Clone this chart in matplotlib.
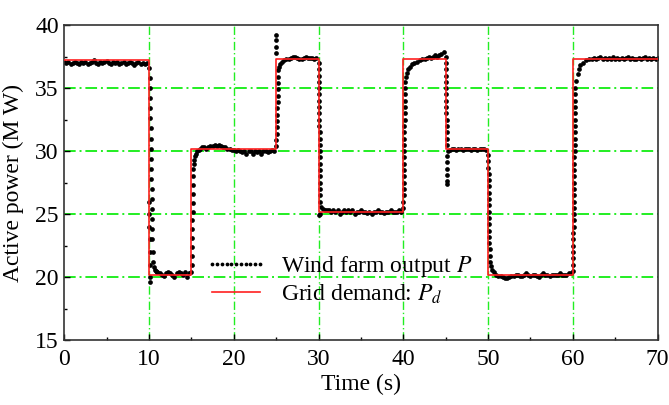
import numpy as np
import matplotlib
matplotlib.use("Agg")
import matplotlib.pyplot as plt
from matplotlib.ticker import MultipleLocator

# ---------------- data ----------------
# Grid demand (step levels)
demand_times = [0, 10, 15, 25, 30, 40, 45, 50, 60, 70]
demand_levels = [37.2, 20.2, 30.2, 37.3, 25.2, 37.3, 30.2, 20.2, 37.3]

# Wind farm output, read segment by segment (start time, step, values)
seg_a_vals = [37.1, 37.0, 37.1, 36.9, 37.0, 37.1, 37.0, 36.95, 37.1, 37.0,
              37.05, 36.9, 37.0, 37.1, 37.2, 37.0, 36.95, 37.1, 37.0, 37.05,
              37.15, 37.0, 36.9, 37.1, 37.0, 37.05, 36.95, 37.0, 37.1, 36.9,
              37.0, 37.1, 37.0, 36.85, 37.0, 37.05, 36.9, 37.0, 36.95, 37.0]
tr10_t = [10.03, 10.04, 10.05, 10.06, 10.07, 10.08, 10.09, 10.10,
          10.05, 10.08, 10.10, 10.12, 10.14, 10.16, 10.18, 10.20, 10.22, 10.24,
          10.26, 10.28, 10.30, 10.32, 10.34, 10.36, 10.38, 10.40, 10.45, 10.5,
          10.6, 10.7, 10.8, 10.9]
tr10_p = [26.0, 25.0, 24.0, 23.0, 22.0, 21.0, 20.0, 19.6,
          36.6, 35.8, 35.0, 34.2, 33.4, 32.6, 31.8, 31.0, 30.2, 29.4,
          28.6, 27.8, 27.0, 26.2, 25.4, 24.6, 23.8, 23.0, 22.0, 21.2,
          20.8, 20.6, 20.5, 20.4]
seg_b_vals = [20.4, 20.3, 20.2, 20.1, 20.3, 20.4, 20.3, 20.2, 20.0, 20.3,
              20.4, 20.3, 20.2, 20.4, 20.0, 20.3]
tr15_t = [15.0, 15.02, 15.04, 15.06, 15.08, 15.10, 15.12, 15.14, 15.16, 15.18,
          15.20, 15.22, 15.24, 15.26, 15.3, 15.4, 15.5, 15.7, 15.9]
tr15_p = [20.4, 21.0, 21.7, 22.4, 23.1, 23.8, 24.5, 25.2, 25.9, 26.6,
          27.3, 28.0, 28.6, 29.0, 29.3, 29.6, 29.8, 30.0, 30.1]
seg_c_vals = [30.2, 30.3, 30.3, 30.2, 30.3, 30.4, 30.4, 30.5, 30.4, 30.5,
              30.4, 30.3, 30.3, 30.2, 30.2, 30.1, 30.1, 30.0, 30.1, 30.0,
              29.9, 30.0, 29.8, 30.0, 30.0, 29.8, 30.0, 29.9, 30.0, 29.8,
              30.0, 30.0, 29.9, 30.0, 30.1, 30.0]
tr25_t = [24.96, 24.97, 24.98, 24.99,
          25.02, 25.04, 25.06, 25.08, 25.10, 25.12, 25.14, 25.16, 25.18, 25.20,
          25.22, 25.24, 25.26, 25.35, 25.5, 25.7, 25.9, 26.2]
tr25_p = [37.8, 38.3, 38.8, 39.2,
          30.4, 30.9, 31.4, 31.9, 32.4, 32.9, 33.4, 33.9, 34.4, 34.9,
          35.4, 35.9, 36.4, 36.7, 36.9, 37.1, 37.2, 37.3]
seg_d_vals = [37.3, 37.4, 37.5, 37.5, 37.4, 37.3, 37.3, 37.4, 37.5, 37.4,
              37.4, 37.4, 37.3, 37.4]
tr30_t = [30.01, 30.02, 30.03, 30.04, 30.05, 30.06, 30.07, 30.08, 30.09, 30.10,
          30.11, 30.12, 30.13, 30.14, 30.15, 30.16, 30.17, 30.18, 30.19, 30.20,
          30.21, 30.22, 30.23, 30.10, 30.15, 30.3, 30.5, 30.8]
tr30_p = [37.0, 36.5, 36.0, 35.5, 35.0, 34.5, 34.0, 33.5, 33.0, 32.5,
          32.0, 31.5, 31.0, 30.5, 30.0, 29.5, 29.0, 28.5, 28.0, 27.5,
          27.0, 26.5, 26.0, 24.9, 25.0, 25.6, 25.4, 25.3]
seg_e_vals = [25.3, 25.3, 25.2, 25.3, 25.2, 25.3, 25.0, 25.2, 25.3, 25.2,
              25.3, 25.2, 25.3, 25.0, 25.2, 25.2, 25.3, 25.2, 25.2, 25.1,
              25.2, 25.0, 25.2, 25.2, 25.3, 25.2, 25.2, 25.1, 25.2, 25.2,
              25.3, 25.2, 25.2, 25.2, 25.3, 25.2]
tr40_t = [40.01, 40.02, 40.03, 40.04, 40.05, 40.06, 40.07, 40.08, 40.09, 40.10,
          40.11, 40.12, 40.13, 40.14, 40.15, 40.16, 40.17, 40.18, 40.19, 40.20,
          40.21, 40.3, 40.45, 40.6, 40.8, 41.0, 41.3, 41.6, 42.0]
tr40_p = [25.5, 26.0, 26.5, 27.0, 27.5, 28.0, 28.5, 29.0, 29.5, 30.0,
          30.5, 31.0, 31.5, 32.0, 32.5, 33.0, 33.5, 34.0, 34.5, 35.0,
          35.5, 35.9, 36.2, 36.5, 36.7, 36.9, 37.0, 37.1, 37.2]
seg_f_vals = [37.3, 37.3, 37.4, 37.5, 37.4, 37.5, 37.6, 37.5, 37.6, 37.7, 37.9]
tr45_t = [45.00, 45.01, 45.02, 45.03, 45.04, 45.05, 45.06, 45.07, 45.08, 45.09,
          45.10, 45.11, 45.12, 45.13, 45.14, 45.16, 45.17, 45.18, 45.19, 45.20,
          45.21, 45.3]
tr45_p = [37.5, 37.0, 36.5, 36.0, 35.5, 35.0, 34.5, 34.0, 33.5, 33.0,
          32.5, 32.0, 31.5, 31.0, 30.5, 29.6, 29.1, 28.6, 28.1, 27.6,
          27.4, 30.0]
seg_g_vals = [30.1, 30.2, 30.2, 30.1, 30.2, 30.2, 30.1, 30.2, 30.2, 30.2,
              30.1, 30.2, 30.2, 30.1, 30.2, 30.2, 30.2, 30.1]
tr50_t = [50.02, 50.03, 50.04, 50.05, 50.06, 50.07, 50.08, 50.09, 50.10, 50.11,
          50.12, 50.13, 50.14, 50.15, 50.16, 50.17, 50.18, 50.25, 50.35, 50.5,
          50.7, 50.9, 51.2]
tr50_p = [29.7, 29.2, 28.7, 28.2, 27.7, 27.2, 26.7, 26.2, 25.7, 25.2,
          24.7, 24.2, 23.7, 23.2, 22.7, 22.2, 21.7, 21.2, 20.9, 20.6,
          20.4, 20.2, 20.1]
seg_h_vals = [20.1, 20.0, 19.9, 19.9, 20.0, 20.1, 20.1, 20.2, 20.2, 20.1,
              20.1, 20.2, 20.3, 20.2, 20.1, 20.2, 20.2, 20.1, 20.0, 20.2,
              20.3, 20.2, 20.2, 20.1, 20.2, 20.2, 20.2, 20.2, 20.3, 20.2,
              20.2, 20.2, 20.3, 20.3]
tr60_t = [60.01, 60.02, 60.03, 60.04, 60.05, 60.06, 60.07, 60.08, 60.09, 60.10,
          60.11, 60.12, 60.13, 60.14, 60.15, 60.16, 60.17, 60.18, 60.19, 60.20,
          60.21, 60.22, 60.23, 60.24, 60.25, 60.26, 60.27, 60.28, 60.29, 60.30,
          60.4, 60.55, 60.7, 60.9, 61.2, 61.5, 61.9]
tr60_p = [20.5, 21.0, 21.5, 22.0, 22.5, 23.0, 23.5, 24.0, 24.5, 25.0,
          25.5, 26.0, 26.5, 27.0, 27.5, 28.0, 28.5, 29.0, 29.5, 30.0,
          30.5, 31.0, 31.5, 32.0, 32.5, 33.0, 33.5, 34.0, 34.5, 35.0,
          35.6, 36.1, 36.5, 36.8, 37.0, 37.2, 37.3]
seg_i_vals = [37.3, 37.4, 37.3, 37.4, 37.5, 37.3, 37.4, 37.3, 37.4, 37.3,
              37.5, 37.3, 37.4, 37.3, 37.4, 37.3, 37.4, 37.5, 37.3, 37.4,
              37.3, 37.3, 37.4, 37.3, 37.4, 37.5, 37.3, 37.4, 37.3, 37.4,
              37.3, 37.4]

# steady segments: (start time, sample step, values)
steady = [(0.0, 0.25, seg_a_vals), (11.0, 0.25, seg_b_vals), (16.0, 0.25, seg_c_vals),
          (26.5, 0.25, seg_d_vals), (31.0, 0.25, seg_e_vals), (42.25, 0.25, seg_f_vals),
          (45.5, 0.25, seg_g_vals), (51.5, 0.25, seg_h_vals), (62.25, 0.25, seg_i_vals)]
trans = [(tr10_t, tr10_p), (tr15_t, tr15_p), (tr25_t, tr25_p), (tr30_t, tr30_p),
         (tr40_t, tr40_p), (tr45_t, tr45_p), (tr50_t, tr50_p), (tr60_t, tr60_p)]

t_out, p_out = [], []
for t0, dt, vals in steady:
    t_out.extend(t0 + dt * np.arange(len(vals)))
    p_out.extend(vals)
for tt, pp in trans:
    t_out.extend(tt)
    p_out.extend(pp)
t_out = np.array(t_out)
p_out = np.array(p_out)
order = np.argsort(t_out, kind="stable")

# ---------------- plot ----------------
plt.rcParams['font.family'] = ['Liberation Serif', 'DejaVu Serif']
plt.rcParams['mathtext.fontset'] = 'stix'

fig = plt.figure(figsize=(6.69, 4.05), dpi=100)
ax = fig.add_axes([0.096, 0.16, 0.887, 0.778])

green = '#22ee22'
for v in [10, 20, 30, 40, 50, 60]:
    ax.axvline(v, color=green, lw=1.0, ls=(0, (6, 2, 1, 2)), zorder=1)
for v in [20, 25, 30, 35]:
    ax.axhline(v, color=green, lw=1.4, ls=(0, (6, 2, 1, 2)), zorder=1)

ax.plot(t_out[order], p_out[order], ls='None', marker='o', ms=3.4,
        color='black', mew=0, zorder=2, label='Wind farm output $P$')
st_t = demand_times
st_p = demand_levels + [demand_levels[-1]]
ax.step(st_t, st_p, where='post', color='#ff2020', lw=1.2, zorder=3,
        label='Grid demand: $P_d$')

ax.set_xlim(0, 70)
ax.set_ylim(15, 40)
ax.xaxis.set_major_locator(MultipleLocator(10))
ax.xaxis.set_minor_locator(MultipleLocator(5))
ax.yaxis.set_major_locator(MultipleLocator(5))
ax.yaxis.set_minor_locator(MultipleLocator(2.5))
ax.tick_params(which='both', direction='in', top=False, right=False,
               labelsize=17)
ax.tick_params(axis='x', pad=6)
ax.tick_params(axis='y', pad=4)
ax.tick_params(which='major', length=4, width=1)
ax.tick_params(which='minor', length=2.5, width=1)
for s in ax.spines.values():
    s.set_linewidth(1.2)
    s.set_color('#333333')

ax.set_xlabel('Time (s)', fontsize=17, labelpad=3)
ax.set_ylabel('Active power (M W)', fontsize=17, labelpad=8)

h, l = ax.get_legend_handles_labels()
leg = ax.legend(h, l, loc='upper left', bbox_to_anchor=(0.222, 0.304),
                frameon=False, fontsize=17, handlelength=2.6, numpoints=11,
                markerscale=0.8, handletextpad=0.6, labelspacing=0.15,
                borderaxespad=0)

fig.savefig('out.png', dpi=100)
